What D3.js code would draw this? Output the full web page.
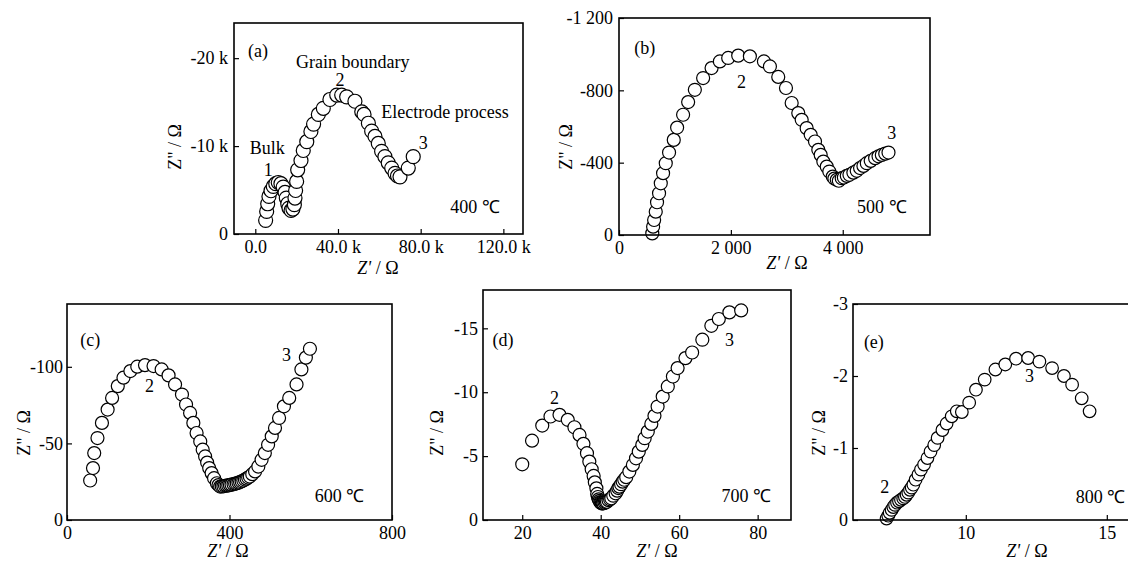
<!DOCTYPE html>
<html>
<head>
<meta charset="utf-8">
<script src="https://cdn.jsdelivr.net/npm/d3@7"></script>
<style>
    body { margin: 0; background: #fff; }
    svg { display: block; font-family: 'Liberation Serif', 'Times New Roman', serif; }
</style>
</head>
<body>
<svg id="chart" width="1128" height="561"></svg>
<script>
// (a) 400 C  -- Z' and Z'' in ohm
let reA = [5000, 5500, 6000, 6600, 7600, 8700, 9900, 11100, 12400, 13500, 14400, 15000, 15700, 16300, 17300, 18200,
    18900, 19200, 19500, 20000, 20500, 22100, 23200, 24900, 26900, 28200, 30500, 32900, 36100, 39400, 41800, 44200,
    48200, 51500, 52600, 54700, 56300, 57900, 59500, 61100, 62700, 64300, 66000, 67600, 68800, 70000, 74000, 76400];
let imA = [-1550, -2570, -3440, -4270, -4920, -5410, -5720, -5860, -5720, -5340, -4730, -4090, -3440, -2950, -2680, -2840,
    -3330, -4090, -4950, -5980, -7300, -8360, -9500, -10500, -11660, -12500, -13600, -14300, -15300, -15800, -15800, -15600,
    -15100, -13900, -13600, -12600, -11700, -11100, -10300, -9400, -8800, -8100, -7500, -6900, -6600, -6500, -7500, -8800];

// (b) 500 C
let reB = [595, 610, 628, 657, 680, 716, 747, 788, 836, 895, 979, 1039, 1146, 1236, 1356, 1504, 1655, 1803, 1952, 2131,
    2340, 2591, 2698, 2847, 2985, 3087, 3205, 3266, 3355, 3427, 3504, 3563, 3606, 3653, 3714, 3760, 3821, 3850, 3893, 3930,
    3982, 4020, 4072, 4120, 4190, 4250, 4310, 4370, 4430, 4500, 4579, 4640, 4699, 4760, 4818];
let imB = [-9, -46, -83, -129, -181, -231, -286, -342, -397, -456, -526, -594, -665, -735, -803, -868, -923, -960, -979, -992,
    -988, -960, -932, -874, -813, -730, -674, -637, -591, -554, -517, -471, -443, -406, -378, -351, -323, -312, -305, -300,
    -314, -318, -327, -333, -345, -355, -370, -382, -397, -410, -425, -435, -443, -450, -456];

// (c) 600 C
let reC = [57, 64, 67, 75, 86, 100, 111, 125, 139, 156, 173, 192, 213, 233, 250, 266, 283, 293, 303, 311, 319, 328, 334,
    340, 345, 350, 356, 362, 369, 373, 377, 381, 385, 389, 393, 397, 401, 405, 410, 414, 418, 422, 426, 430, 434, 438,
    442, 446, 450, 456, 463, 471, 479, 487, 495, 504, 512, 522, 534, 547, 565, 577, 588, 598];
let imC = [-25.8, -33.9, -43.7, -53.5, -63.4, -72.1, -79.7, -87.4, -92.9, -97.2, -100.1, -101.1, -100.5, -98.3, -94.4,
    -88.5, -81.9, -75.4, -69.9, -63.4, -56.8, -51.3, -45.9, -41.5, -37.5, -33.9, -30.6, -27.3, -24.0, -22.8, -21.8, -22.0,
    -22.0, -22.3, -22.4, -22.6, -22.9, -23.1, -23.4, -23.7, -24.0, -24.4, -24.8, -25.3, -25.8, -26.4, -27.0, -27.7, -28.4,
    -29.9, -31.7, -34.9, -39.3, -43.7, -49.1, -54.6, -60.1, -66.6, -74.2, -79.7, -88.5, -98.3, -106, -111.8];

// (d) 700 C
let reD = [20, 22.5, 25.1, 27.2, 29.5, 31.6, 33.3, 34.6, 35.6, 36.5, 37.1, 37.7, 38.2, 38.5, 38.9, 39.1, 39.3, 39.5,
    39.7, 39.9, 40.1, 40.3, 40.5, 40.7, 41.0, 41.3, 41.6, 42.0, 42.4, 42.7, 43.2, 43.8, 44.2, 44.5, 44.8, 45.2, 45.6,
    46.0, 46.5, 47.3, 48.2, 49.0, 49.7, 50.6, 51.2, 52.0, 52.9, 53.7, 54.5, 55.8, 57.1, 58.4, 59.6, 61.6, 63.3, 65.9,
    68.2, 70.1, 72.8, 75.8];
let imD = [-4.36, -6.21, -7.39, -8.10, -8.23, -7.84, -7.26, -6.66, -5.96, -5.23, -4.57, -3.97, -3.45, -2.95, -2.48,
    -2.04, -1.80, -1.62, -1.50, -1.40, -1.36, -1.30, -1.30, -1.31, -1.35, -1.40, -1.43, -1.55, -1.62, -1.70, -1.90, -2.09,
    -2.30, -2.50, -2.61, -2.80, -3.00, -3.15, -3.35, -3.79, -4.31, -4.83, -5.35, -5.88, -6.40, -6.92, -7.52, -8.15,
    -8.88, -9.66, -10.45, -11.23, -11.89, -12.67, -13.11, -14.11, -15.2, -15.73, -16.25, -16.4];

// (e) 800 C
let reE = [7.19, 7.25, 7.30, 7.37, 7.43, 7.49, 7.56, 7.63, 7.70, 7.78, 7.84, 7.90, 7.96, 8.02, 8.08, 8.14, 8.22, 8.32,
    8.41, 8.52, 8.64, 8.75, 8.88, 9.0, 9.17, 9.32, 9.50, 9.68, 9.86, 10.12, 10.36, 10.67, 11.05, 11.40, 11.78, 12.21,
    12.61, 13.06, 13.48, 13.77, 14.11, 14.39];
let imE = [-0.02, -0.06, -0.10, -0.14, -0.18, -0.21, -0.24, -0.26, -0.28, -0.30, -0.32, -0.35, -0.38, -0.42, -0.45,
    -0.49, -0.56, -0.63, -0.70, -0.77, -0.86, -0.95, -1.04, -1.14, -1.25, -1.34, -1.44, -1.51, -1.50, -1.63, -1.81, -1.95,
    -2.09, -2.16, -2.24, -2.25, -2.20, -2.11, -2.0, -1.88, -1.69, -1.51];

// ticks
let xTicksA = [0, 40000, 80000, 120000];
let xLabelsA = ['0.0', '40.0 k', '80.0 k', '120.0 k'];
let yTicksA = [0, -10000, -20000];
let yLabelsA = ['0', '-10 k', '-20 k'];
let xTicksB = [0, 2000, 4000];
let xLabelsB = ['0', '2 000', '4 000'];
let yTicksB = [0, -400, -800, -1200];
let yLabelsB = ['0', '-400', '-800', '-1 200'];
let xTicksC = [0, 400, 800];
let yTicksC = [0, -50, -100];
let xTicksD = [20, 40, 60, 80];
let yTicksD = [0, -5, -10, -15];
let xTicksE = [10, 15];
let yTicksE = [0, -1, -2, -3];

// annotations, in data units
let notesA = [
    { t: '(a)', x: 1300, y: -20900 },
    { t: 'Grain boundary', x: 47100, y: -19600 },
    { t: '2', x: 41000, y: -17500 },
    { t: 'Electrode process', x: 91800, y: -13900 },
    { t: '3', x: 81300, y: -10400 },
    { t: 'Bulk', x: 5800, y: -9800 },
    { t: '1', x: 6300, y: -7300 },
    { t: '400 ℃', x: 106300, y: -3100 },
];
let notesB = [
    { t: '(b)', x: 460, y: -1034 },
    { t: '2', x: 2192, y: -849 },
    { t: '3', x: 4877, y: -567 },
    { t: '500 ℃', x: 4698, y: -157 },
];
let notesC = [
    { t: '(c)', x: 57, y: -118 },
    { t: '2', x: 203, y: -87.4 },
    { t: '3', x: 540, y: -108 },
    { t: '600 ℃', x: 671, y: -15.7 },
];
let notesD = [
    { t: '(d)', x: 15.1, y: -14.1 },
    { t: '2', x: 28.2, y: -9.54 },
    { t: '3', x: 72.8, y: -14.1 },
    { t: '700 ℃', x: 77.1, y: -1.88 },
];
let notesE = [
    { t: '(e)', x: 6.74, y: -2.48 },
    { t: '2', x: 7.13, y: -0.46 },
    { t: '3', x: 12.26, y: -2.0 },
    { t: '800 ℃', x: 14.78, y: -0.33 },
];

let fontSize = 18;
let serif = "'Liberation Serif', 'Times New Roman', serif";
let tickLen = 5;

let panels = [
    { re: reA, im: imA, left: 234, top: 23, right: 523, bottom: 234, xDom: [-10300, 129500], yDom: [0, -24000],
      xTicks: xTicksA, xLabels: xLabelsA, yTicks: yTicksA, yLabels: yLabelsA, notes: notesA, r: 7, yPad: 6,
      xTitle: [378, 268], yTitle: [175, 147] },
    { re: reB, im: imB, left: 619, top: 18, right: 930, bottom: 235, xDom: [0, 5560], yDom: [0, -1200],
      xTicks: xTicksB, xLabels: xLabelsB, yTicks: yTicksB, yLabels: yLabelsB, notes: notesB, r: 6.5, yPad: 6,
      xTitle: [787, 263], yTitle: [566, 147] },
    { re: reC, im: imC, left: 67, top: 304, right: 392, bottom: 520, xDom: [0, 800], yDom: [0, -141],
      xTicks: xTicksC, xLabels: null, yTicks: yTicksC, yLabels: null, notes: notesC, r: 6.5, yPad: 4,
      xTitle: [228, 551], yTitle: [24, 433] },
    { re: reD, im: imD, left: 483, top: 290, right: 791, bottom: 520, xDom: [10, 88.5], yDom: [0, -18],
      xTicks: xTicksD, xLabels: null, yTicks: yTicksD, yLabels: null, notes: notesD, r: 6.5, yPad: 5,
      xTitle: [657, 551], yTitle: [437, 433] },
    { re: reE, im: imE, left: 853, top: 304, right: 1135, bottom: 520, xDom: [6, 16], yDom: [0, -3],
      xTicks: xTicksE, xLabels: null, yTicks: yTicksE, yLabels: null, notes: notesE, r: 6.3, yPad: 5,
      xTitle: [1027, 551], yTitle: [819, 433] },
];

let svg = d3.select('#chart');

function styleAxis(g) {
    g.attr('font-family', serif).attr('font-size', fontSize);
    g.select('.domain').remove();
    g.selectAll('.tick line').attr('stroke', '#000').attr('stroke-width', 1.2);
    g.selectAll('.tick text').attr('fill', '#000');
}

function drawPanel(p) {
    let x = d3.scaleLinear().domain(p.xDom).range([p.left, p.right]);
    let y = d3.scaleLinear().domain(p.yDom).range([p.bottom, p.top]);
    let g = svg.append('g');

    let xAxis = d3.axisBottom(x)
        .tickValues(p.xTicks)
        .tickSizeInner(-tickLen)
        .tickSizeOuter(0)
        .tickPadding(6)
        .tickFormat((d, i) => (p.xLabels ? p.xLabels[i] : String(d)));
    let yAxis = d3.axisLeft(y)
        .tickValues(p.yTicks)
        .tickSizeInner(-tickLen)
        .tickSizeOuter(0)
        .tickPadding(p.yPad)
        .tickFormat((d, i) => (p.yLabels ? p.yLabels[i] : String(d)));

    g.append('g').attr('transform', `translate(0,${p.bottom})`).call(xAxis).call(styleAxis);
    g.append('g').attr('transform', `translate(${p.left},0)`).call(yAxis).call(styleAxis);

    let pts = p.re.map((d, i) => ({ re: d, im: p.im[i] }));
    g.append('g')
        .selectAll('circle')
        .data(pts)
        .enter()
        .append('circle')
        .attr('cx', (d) => x(d.re))
        .attr('cy', (d) => y(d.im))
        .attr('r', p.r)
        .attr('fill', '#fff')
        .attr('stroke', '#000')
        .attr('stroke-width', 1.2);

    g.append('rect')
        .attr('x', p.left)
        .attr('y', p.top)
        .attr('width', p.right - p.left)
        .attr('height', p.bottom - p.top)
        .attr('fill', 'none')
        .attr('stroke', '#000')
        .attr('stroke-width', 1.6);

    g.append('g')
        .selectAll('text')
        .data(p.notes)
        .enter()
        .append('text')
        .attr('x', (d) => x(d.x))
        .attr('y', (d) => y(d.y))
        .attr('dy', '0.35em')
        .attr('text-anchor', 'middle')
        .attr('font-family', serif)
        .attr('font-size', fontSize)
        .text((d) => d.t);

    let xt = g.append('text')
        .attr('x', p.xTitle[0])
        .attr('y', p.xTitle[1])
        .attr('dy', '0.35em')
        .attr('text-anchor', 'middle')
        .attr('font-family', serif)
        .attr('font-size', fontSize);
    xt.append('tspan').attr('font-style', 'italic').text("Z'");
    xt.append('tspan').text(' / Ω');

    g.append('text')
        .attr('transform', `translate(${p.yTitle[0]},${p.yTitle[1]}) rotate(-90)`)
        .attr('dy', '0.35em')
        .attr('text-anchor', 'middle')
        .attr('font-family', serif)
        .attr('font-size', fontSize)
        .text('Z" / Ω');
}

panels.forEach(drawPanel);
</script>
</body>
</html>
